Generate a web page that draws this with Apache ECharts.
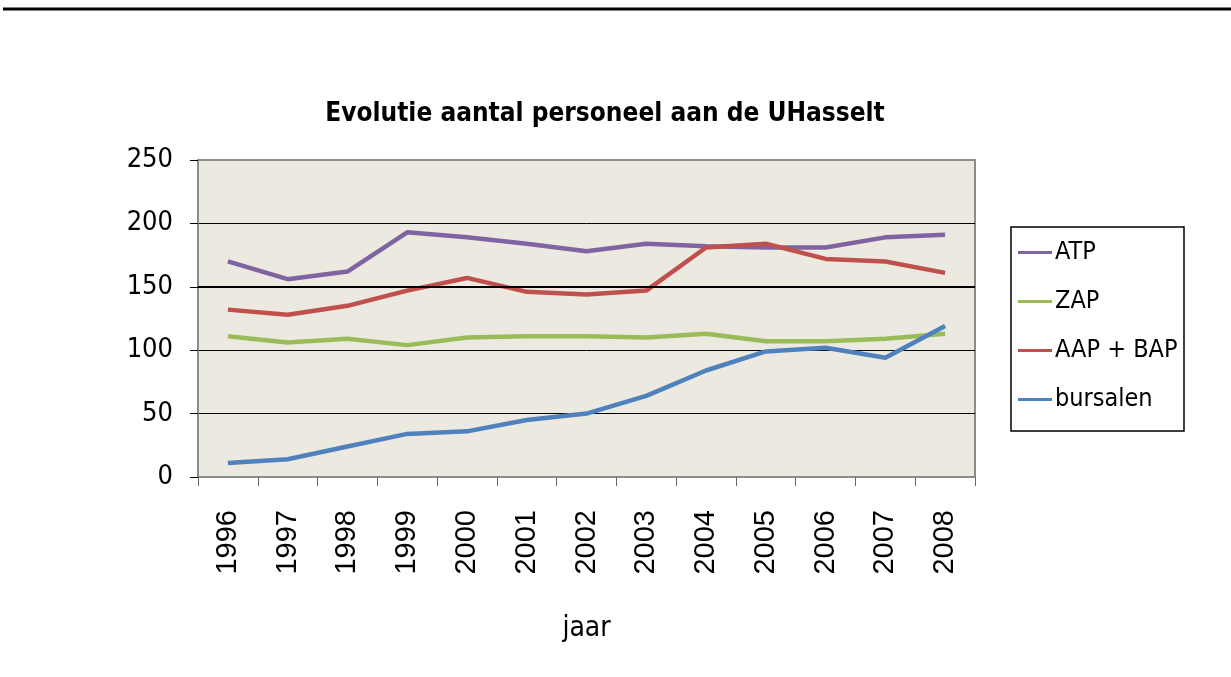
<!DOCTYPE html>
<html>
<head>
<meta charset="utf-8">
<script src="https://cdn.jsdelivr.net/npm/echarts@6/dist/echarts.min.js"></script>
<style>
  html, body { margin: 0; padding: 0; background: #fff; }
  #main { width: 1231px; height: 677px; }
</style>
</head>
<body>
<div id="main"></div>
<script>
const years = ['1996', '1997', '1998', '1999', '2000', '2001', '2002', '2003', '2004', '2005', '2006', '2007', '2008'];
const atp = [170, 156, 162, 193, 189, 184, 178, 184, 182, 181, 181, 189, 191];
const zap = [111, 106, 109, 104, 110, 111, 111, 110, 113, 107, 107, 109, 113];
const aapBap = [132, 128, 135, 147, 157, 146, 144, 147, 181, 184, 172, 170, 161];
const bursalen = [11, 14, 24, 34, 36, 45, 50, 64, 84, 99, 102, 94, 119];
const yTicks = [0, 50, 100, 150, 200, 250];

const narrow = "'Liberation Sans Narrow', 'Arial Narrow', 'DejaVu Sans Condensed', sans-serif";

const chart = echarts.init(document.getElementById('main'));

function lineSeries(name, data, color) {
  return {
    name: name,
    type: 'line',
    data: data,
    symbol: 'none',
    smooth: false,
    lineStyle: { width: 4.5, color: color },
    itemStyle: { color: color }
  };
}

const series = [
  lineSeries('ATP', atp, '#8064A2'),
  lineSeries('ZAP', zap, '#9BBB59'),
  lineSeries('AAP + BAP', aapBap, '#C0504D'),
  lineSeries('bursalen', bursalen, '#4F81BD')
];
// dikkere lijn op 150
series[0].markLine = {
  silent: true,
  symbol: 'none',
  label: { show: false },
  lineStyle: { color: '#000', width: 2, type: 'solid' },
  data: [{ yAxis: 150 }]
};

chart.setOption({
  animation: false,
  backgroundColor: '#fff',
  title: {
    text: 'Evolutie aantal personeel aan de UHasselt',
    left: 600,
    textAlign: 'center',
    top: 96,
    textStyle: { fontFamily: narrow, fontWeight: 'bold', fontSize: 26, color: '#000' }
  },
  legend: {
    orient: 'vertical',
    left: 1018,
    top: 240,
    padding: 0,
    itemGap: 24,
    itemWidth: 34,
    itemHeight: 3,
    icon: 'rect',
    textStyle: { fontFamily: narrow, fontSize: 25, color: '#000', padding: [0, 0, 0, -2] },
    data: ['ATP', 'ZAP', 'AAP + BAP', 'bursalen']
  },
  grid: {
    left: 198,
    right: 256,
    top: 160,
    bottom: 200,
    show: true,
    backgroundColor: '#ECEAE0',
    borderColor: '#8c8c8c',
    borderWidth: 2
  },
  xAxis: {
    type: 'category',
    data: years,
    boundaryGap: true,
    name: 'jaar',
    nameLocation: 'middle',
    nameGap: 138,
    nameTextStyle: { fontFamily: narrow, fontSize: 28, color: '#000' },
    axisLine: { lineStyle: { color: '#8c8c8c', width: 2 } },
    axisTick: { show: true, length: 9, lineStyle: { color: '#666' } },
    axisLabel: {
      rotate: 90,
      margin: 33,
      fontFamily: "'Liberation Sans', Arial, sans-serif",
      fontSize: 29,
      color: '#000'
    }
  },
  yAxis: {
    type: 'value',
    min: 0,
    max: yTicks[yTicks.length - 1],
    interval: 50,
    axisLine: { show: true, lineStyle: { color: '#8c8c8c', width: 2 } },
    axisTick: { show: true, length: 8, lineStyle: { color: '#000' } },
    axisLabel: {
      margin: 25,
      fontFamily: narrow,
      fontSize: 27,
      color: '#000'
    },
    splitLine: { show: true, showMinLine: false, showMaxLine: false, lineStyle: { color: '#000', width: 1 } }
  },
  graphic: [
    {
      type: 'line',
      shape: { x1: 3, y1: 9, x2: 1231, y2: 9 },
      style: { stroke: '#000', lineWidth: 3 }
    },
    {
      type: 'rect',
      shape: { x: 1011, y: 227, width: 173, height: 204 },
      style: { fill: 'none', stroke: '#000', lineWidth: 1.5 },
      z: 10
    }
  ],
  series: series
});
</script>
</body>
</html>
